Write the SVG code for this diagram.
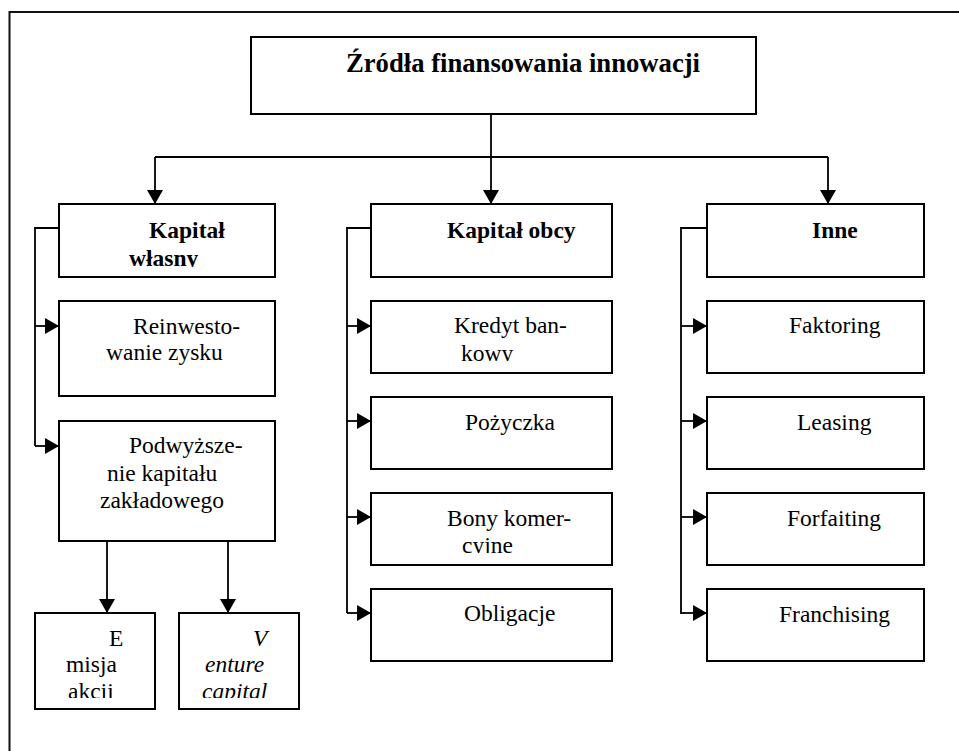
<svg xmlns="http://www.w3.org/2000/svg" width="959" height="751" viewBox="0 0 959 751">
  <style>
    .box { fill: #fff; stroke: #000; stroke-width: 2; }
    .ln { fill: none; stroke: #000; stroke-width: 1.8; }
    .frame { fill: none; stroke: #111; stroke-width: 2; }
    text { font-family: 'Liberation Serif', 'DejaVu Serif', 'Times New Roman', serif; font-size: 23.5px; fill: #000; }
    .b { font-weight: bold; }
    .t { font-size: 26.5px; font-weight: bold; }
    .i { font-style: italic; }
  </style>
  <defs>
    <marker id="arr" viewBox="0 0 14 16" refX="14" refY="8" markerWidth="14" markerHeight="16" markerUnits="userSpaceOnUse" orient="auto">
      <path d="M0,0 L14,8 L0,16 Z" fill="#000"/>
    </marker>
    <clipPath id="c-wlasny"><rect x="60" y="205" width="214" height="62"/></clipPath>
    <clipPath id="c-kredyt"><rect x="372" y="302" width="239" height="59"/></clipPath>
    <clipPath id="c-bony"><rect x="372" y="494" width="239" height="59"/></clipPath>
    <clipPath id="c-emisja"><rect x="36" y="614" width="118" height="84"/></clipPath>
    <clipPath id="c-venture"><rect x="180" y="614" width="118" height="84"/></clipPath>
  </defs>

  <!-- page frame (top and left edges) -->
  <path class="frame" d="M9.5,751 V12 H959"/>

  <!-- connectors -->
  <g id="connectors">
    <path class="ln" d="M491,111 V157"/>
    <path class="ln" d="M155,157 H828"/>
    <path class="ln" d="M155,157 V204" marker-end="url(#arr)"/>
    <path class="ln" d="M491,157 V204" marker-end="url(#arr)"/>
    <path class="ln" d="M828,157 V204" marker-end="url(#arr)"/>

    <!-- own capital branch -->
    <path class="ln" d="M59,228 H35 V446"/>
    <path class="ln" d="M35,326 H59" marker-end="url(#arr)"/>
    <path class="ln" d="M35,446 H59" marker-end="url(#arr)"/>
    <path class="ln" d="M107,541 V613" marker-end="url(#arr)"/>
    <path class="ln" d="M228,541 V613" marker-end="url(#arr)"/>

    <!-- external capital branch -->
    <path class="ln" d="M371,228 H347 V613"/>
    <path class="ln" d="M347,326 H371" marker-end="url(#arr)"/>
    <path class="ln" d="M347,421 H371" marker-end="url(#arr)"/>
    <path class="ln" d="M347,517 H371" marker-end="url(#arr)"/>
    <path class="ln" d="M347,613 H371" marker-end="url(#arr)"/>

    <!-- other sources branch -->
    <path class="ln" d="M707,228 H681 V614"/>
    <path class="ln" d="M681,326 H707" marker-end="url(#arr)"/>
    <path class="ln" d="M681,421 H707" marker-end="url(#arr)"/>
    <path class="ln" d="M681,517 H707" marker-end="url(#arr)"/>
    <path class="ln" d="M681,613 H707" marker-end="url(#arr)"/>
  </g>

  <g id="root">
    <rect class="box" x="251" y="37" width="505" height="77"/>
    <text class="t" x="346" y="72" textLength="354" lengthAdjust="spacingAndGlyphs">Źródła finansowania innowacji</text>
  </g>

  <g id="kapital-wlasny">
    <rect class="box" x="59" y="204" width="216" height="73"/>
    <g clip-path="url(#c-wlasny)">
      <text class="b" x="149" y="238">Kapitał</text>
      <text class="b" x="129" y="266">własny</text>
    </g>
  </g>
  <g id="reinwestowanie">
    <rect class="box" x="59" y="301" width="216" height="95"/>
    <text x="133" y="334">Reinwesto-</text>
    <text x="106" y="360">wanie zysku</text>
  </g>
  <g id="podwyzszenie">
    <rect class="box" x="59" y="421" width="216" height="120"/>
    <text x="129" y="453">Podwyższe-</text>
    <text x="107" y="481">nie kapitału</text>
    <text x="100" y="508">zakładowego</text>
  </g>
  <g id="emisja">
    <rect class="box" x="35" y="613" width="120" height="96"/>
    <g clip-path="url(#c-emisja)">
      <text x="109" y="646">E</text>
      <text x="66" y="672">misja</text>
      <text x="68" y="699">akcji</text>
    </g>
  </g>
  <g id="venture">
    <rect class="box" x="179" y="613" width="120" height="96"/>
    <g clip-path="url(#c-venture)">
      <text class="i" x="253" y="646">V</text>
      <text class="i" x="205" y="672">enture</text>
      <text class="i" x="202" y="699">capital</text>
    </g>
  </g>

  <g id="kapital-obcy">
    <rect class="box" x="371" y="204" width="241" height="73"/>
    <text class="b" x="447" y="238">Kapitał obcy</text>
  </g>
  <g id="kredyt">
    <rect class="box" x="371" y="301" width="241" height="72"/>
    <g clip-path="url(#c-kredyt)">
      <text x="454" y="333">Kredyt ban-</text>
      <text x="461" y="361">kowy</text>
    </g>
  </g>
  <g id="pozyczka">
    <rect class="box" x="371" y="397" width="241" height="72"/>
    <text x="465" y="430">Pożyczka</text>
  </g>
  <g id="bony">
    <rect class="box" x="371" y="493" width="241" height="72"/>
    <g clip-path="url(#c-bony)">
      <text x="447" y="526">Bony komer-</text>
      <text x="462" y="553">cyjne</text>
    </g>
  </g>
  <g id="obligacje">
    <rect class="box" x="371" y="589" width="241" height="72"/>
    <text x="464" y="621">Obligacje</text>
  </g>

  <g id="inne">
    <rect class="box" x="707" y="204" width="217" height="73"/>
    <text class="b" x="812" y="238">Inne</text>
  </g>
  <g id="faktoring">
    <rect class="box" x="707" y="301" width="217" height="72"/>
    <text x="789" y="333">Faktoring</text>
  </g>
  <g id="leasing">
    <rect class="box" x="707" y="397" width="217" height="72"/>
    <text x="797" y="430">Leasing</text>
  </g>
  <g id="forfaiting">
    <rect class="box" x="707" y="493" width="217" height="72"/>
    <text x="787" y="526">Forfaiting</text>
  </g>
  <g id="franchising">
    <rect class="box" x="707" y="589" width="217" height="72"/>
    <text x="779" y="622">Franchising</text>
  </g>
</svg>
